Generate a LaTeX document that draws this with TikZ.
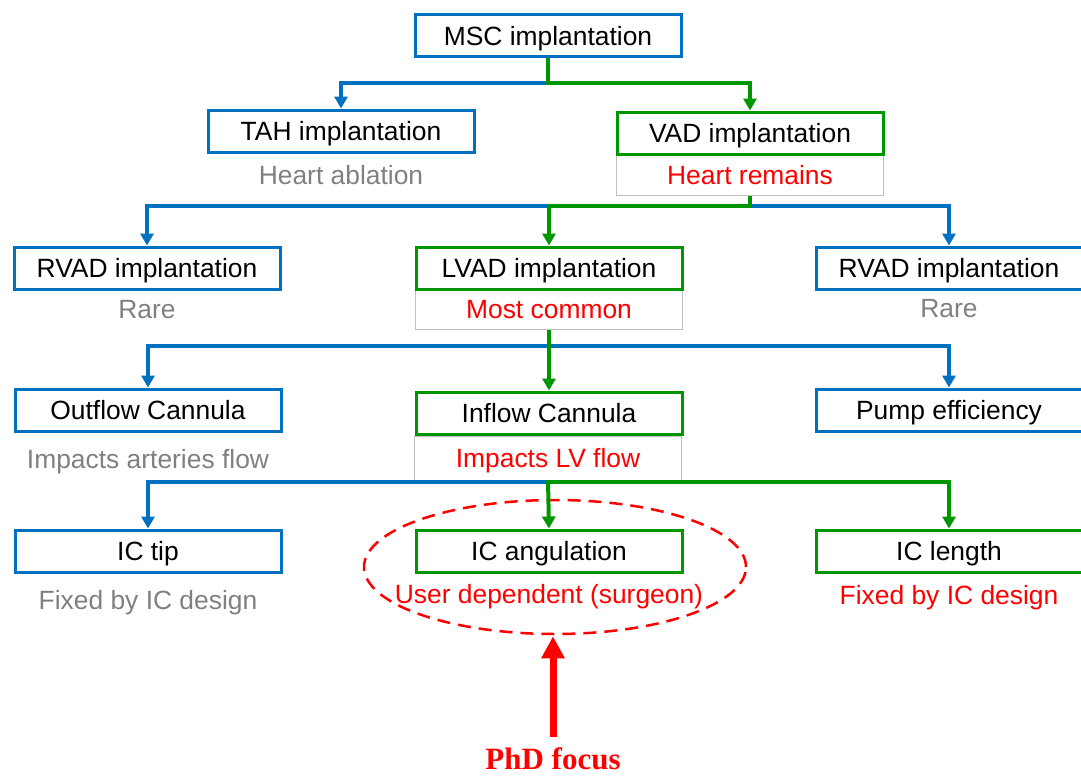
\documentclass[tikz,border=0pt]{standalone}
\usepackage{fontspec}
\setmainfont{Liberation Sans}
\newfontfamily\focusfont{Liberation Serif}
\usetikzlibrary{arrows.meta, positioning, calc, shapes.geometric}

\definecolor{pblue}{RGB}{0,112,192}
\definecolor{pgreen}{RGB}{0,150,0}
\definecolor{pgray}{RGB}{128,128,128}

\begin{document}
\begin{tikzpicture}[
  x=1pt, y=-1pt,
  every node/.style = {
    align=center,
    font=\fontsize{26.4}{29}\selectfont,
    text height=19pt, text depth=0pt,
    inner sep=0pt
  },
  bbox/.style = {draw=pblue, line width=3pt, fill=white, minimum width=266pt, minimum height=42pt},
  gbox/.style = {draw=pgreen, line width=3pt, fill=white, minimum width=266pt, minimum height=42pt},
  subbox/.style = {draw=black!25, line width=0.8pt, minimum width=267pt, minimum height=41pt},
  grey/.style = {text=pgray},
  hot/.style = {text=red},
  bline/.style = {draw=pblue, line width=4pt},
  gline/.style = {draw=pgreen, line width=4pt},
  barrow/.style = {bline, -{Triangle[length=12pt, width=13pt]}},
  garrow/.style = {gline, -{Triangle[length=12pt, width=13pt]}}
]
\useasboundingbox (0,0) rectangle (1081,776);

% Level 0: root
\node[bbox] (msc) at (548,36) {MSC implantation};

% Level 1: TAH / VAD
\node[bbox] (tah) at (341,131) {TAH implantation};
\node[grey] (tahsub) at (341,175) {Heart ablation};
\node[subbox, hot] (vadsub) at (750,175) {Heart remains};
\node[gbox] (vad) at (750,133) {VAD implantation};

% Level 2: RVAD / LVAD / RVAD
\node[bbox] (rvadl) at (147,268) {RVAD implantation};
\node[grey] (rvadlsub) at (147,309) {Rare};
\node[subbox, hot] (lvadsub) at (549,309) {Most common};
\node[gbox] (lvad) at (549,268) {LVAD implantation};
\node[bbox] (rvadr) at (949,268) {RVAD implantation};
\node[grey] (rvadrsub) at (949,308) {Rare};

% Level 3: cannulas and pump
\node[bbox] (outc) at (148,410) {Outflow Cannula};
\node[grey] (outcsub) at (148,459) {Impacts arteries flow};
\node[subbox, hot, minimum height=44pt] (incsub) at (548,458) {Impacts LV flow};
\node[gbox] (inc) at (549,413) {Inflow Cannula};
\node[bbox] (pump) at (949,410) {Pump efficiency};

% Level 4: inflow cannula parameters
\node[bbox] (ictip) at (148,551) {IC tip};
\node[grey] (ictipsub) at (148,600) {Fixed by IC design};
\node[gbox] (icang) at (549,551) {IC angulation};
\node[hot] (icangsub) at (549,594) {User dependent (surgeon)};
\node[gbox] (iclen) at (949,551) {IC length};
\node[hot] (iclensub) at (949,595) {Fixed by IC design};

% focus
\node[ellipse, draw=red, line width=2.5pt, dash pattern=on 13pt off 8pt,
      minimum width=382pt, minimum height=134pt] (focus) at (555,567) {};
\node[text=red, text height=20.5pt, font=\focusfont\bfseries\fontsize{31}{34}\selectfont] (phd) at (553,759) {PhD focus};

% === CONNECTORS ===
\coordinate (j1) at (msc.south |- 0,83);
\draw[barrow] (j1) -| (tah.north);
\draw[garrow] (msc.south) -- (j1) -| (vad.north);

\coordinate (j2) at (vadsub.south |- 0,206);
\draw[barrow] (j2) -| (rvadl.north);
\draw[barrow] (j2) -| (rvadr.north);
\draw[garrow] (vadsub.south) -- (j2) -| (lvad.north);

\coordinate (j3) at (lvadsub.south |- 0,346);
\draw[barrow] (j3) -| (outc.north);
\draw[barrow] (j3) -| (pump.north);
\draw[garrow] (lvadsub.south) -- (inc.north);

\coordinate (j4) at (incsub.south |- 0,482);
\draw[barrow] (j4) -| (ictip.north);
\draw[garrow] (j4) -| (iclen.north);
\draw[garrow] (incsub.south) -- (icang.north);

\draw[draw=red, line width=7pt, -{Triangle[length=22pt, width=22pt]}, shorten <=12pt, shorten >=1pt]
  (phd.north) -- (phd.north |- focus.south);

\end{tikzpicture}
\end{document}
